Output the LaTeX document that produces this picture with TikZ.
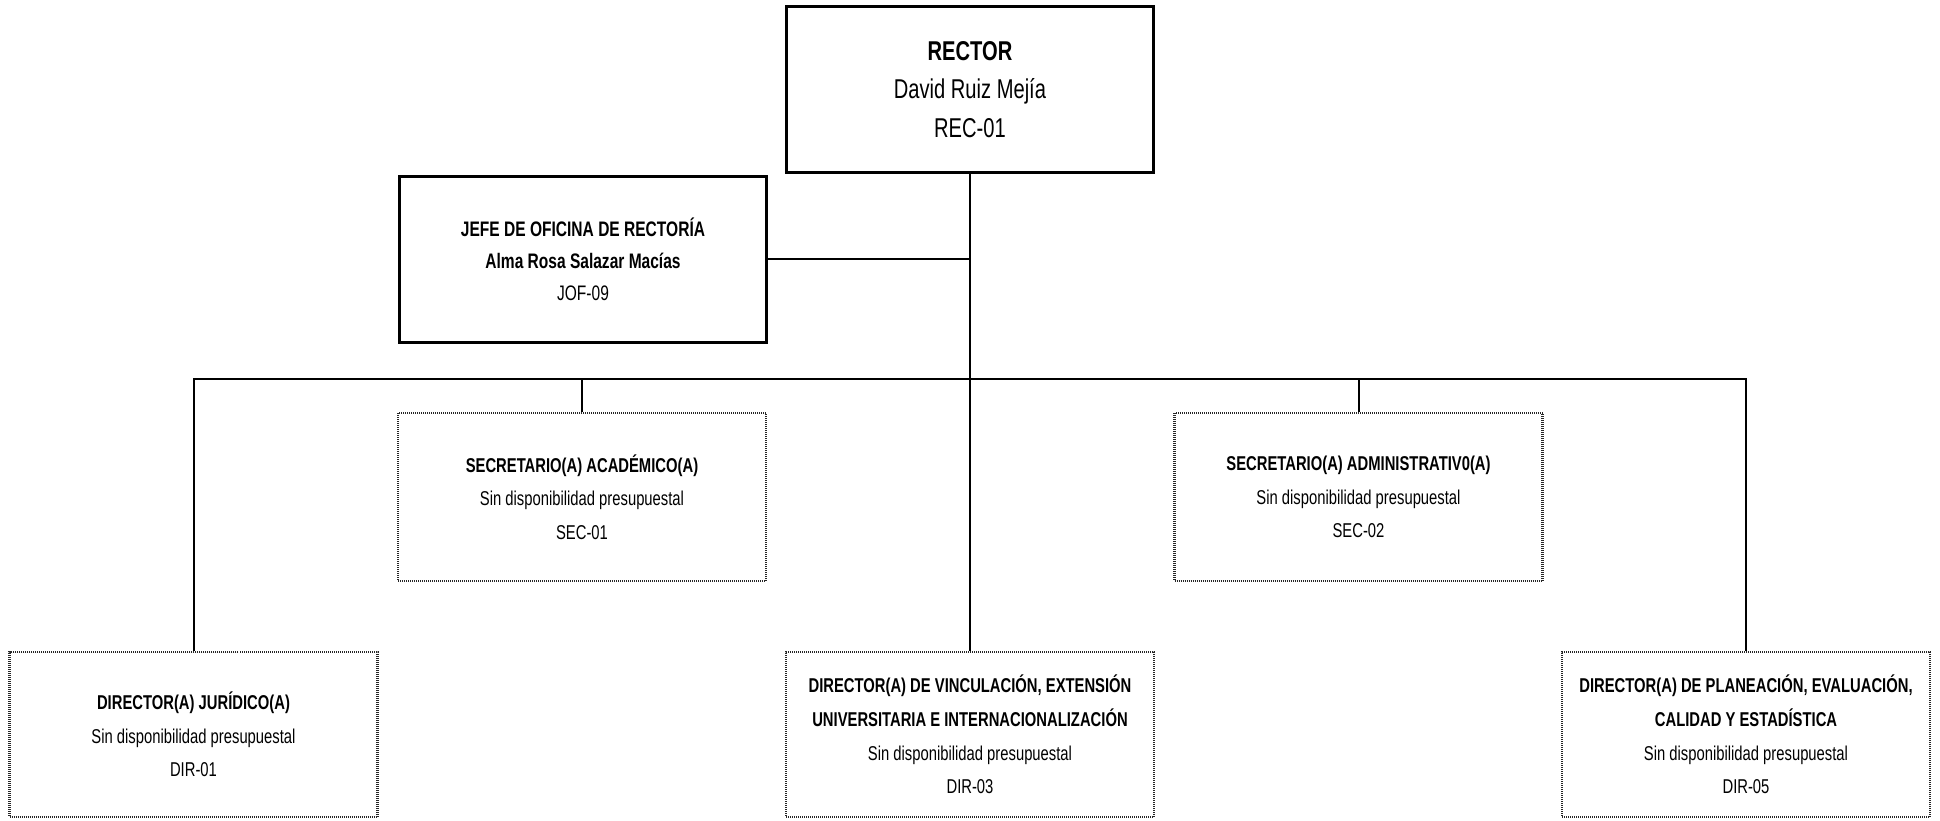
\documentclass[tikz,border=0pt]{standalone}
\usepackage{fontspec}
\setmainfont{Liberation Sans}[FakeStretch=0.74]
\begin{document}
\begin{tikzpicture}[x=0.5pt,y=-0.5pt,
  solidbox/.style={draw=black, line width=1.5pt, fill=white, align=center,
    minimum width=183.5pt, minimum height=83pt, inner sep=0pt},
  vacantbox/.style={draw=black!85, line width=1.2pt, dash pattern=on 0.5pt off 0.5pt,
    fill=white, align=center, minimum width=184pt, minimum height=84pt, inner sep=0pt},
  link/.style={draw=black, line width=1pt},
  bodyfont/.style={font=\fontsize{10}{16.8}\selectfont},
  longfont/.style={font=\fontsize{10}{16.9}\selectfont}]
\useasboundingbox (0,0) rectangle (1940,820);

\coordinate (bus) at (970,379);

% Top level
\node[solidbox, font=\fontsize{13.6}{19.2}\selectfont] (rector) at (970,89.5)
  {\textbf{RECTOR}\\David Ruiz Mejía\\REC-01};
\node[solidbox, font=\fontsize{10.5}{16}\selectfont] (jefe) at (583,259)
  {\textbf{JEFE DE OFICINA DE RECTORÍA}\\\textbf{Alma Rosa Salazar Macías}\\JOF-09};

% Secretarías
\node[vacantbox, bodyfont] (sec1) at (582,497)
  {\textbf{SECRETARIO(A) ACADÉMICO(A)}\\Sin disponibilidad presupuestal\\SEC-01};
\node[vacantbox, bodyfont] (sec2) at (1358.5,497)
  {\textbf{SECRETARIO(A) ADMINISTRATIV0(A)}\\Sin disponibilidad presupuestal\\SEC-02};

% Direcciones
\node[vacantbox, bodyfont, minimum height=82.5pt] (dir1) at (193.5,734.5)
  {\textbf{DIRECTOR(A) JURÍDICO(A)}\\Sin disponibilidad presupuestal\\DIR-01};
\node[vacantbox, longfont, minimum height=82.5pt] (dir3) at (970,734.5)
  {\textbf{DIRECTOR(A) DE VINCULACIÓN, EXTENSIÓN}\\\textbf{UNIVERSITARIA E INTERNACIONALIZACIÓN}\\Sin disponibilidad presupuestal\\DIR-03};
\node[vacantbox, longfont, minimum height=82.5pt] (dir5) at (1746,734.5)
  {\textbf{DIRECTOR(A) DE PLANEACIÓN, EVALUACIÓN,}\\\textbf{CALIDAD Y ESTADÍSTICA}\\Sin disponibilidad presupuestal\\DIR-05};

% Lines of authority
\draw[link] (rector.south) -- (dir3.north);
\draw[link] (jefe.east) -- (jefe.east -| rector.south);
\draw[link] (dir1.north) -- (dir1.north |- bus) -- (dir5.north |- bus) -- (dir5.north);
\draw[link] (sec1.north) -- (sec1.north |- bus);
\draw[link] (sec2.north) -- (sec2.north |- bus);
\end{tikzpicture}
\end{document}
